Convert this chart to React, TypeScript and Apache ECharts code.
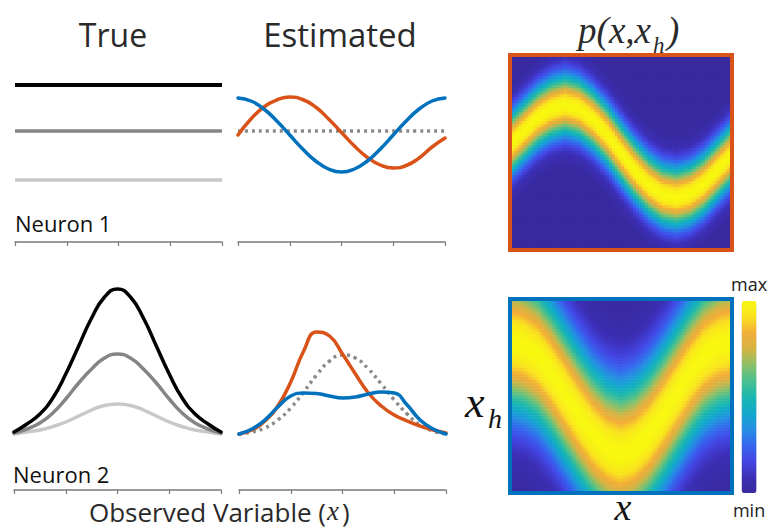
import React, { useEffect, useRef } from "react";
import * as echarts from "echarts";

// ---------- data ----------
const X_STEPS = [0, 1, 2, 3, 4, 5, 6, 7, 8, 9, 10, 11, 12, 13, 14, 15, 16];
const X_TICK_INTERVAL = 4;

// Neuron 1, true tuning curves (flat)
const TRUE1_LEVELS = [15.7, 11.1, 6.2];
// Neuron 1, estimated
const EST1_BLUE = [14.4, 14.1, 13.3, 12.1, 10.7, 9.3, 8.1, 7.3, 7.0, 7.3, 8.1, 9.3, 10.7, 12.1, 13.3, 14.1, 14.4];
const EST1_ORANGE = [10.7, 12.3, 13.5, 14.2, 14.5, 14.25, 13.5, 12.3, 10.95, 9.6, 8.45, 7.7, 7.4, 7.65, 8.4, 9.5, 10.4];
const EST1_TRUE = 11.1;

// Neuron 2, true tuning curves
const TRUE2_BLACK = [5.8, 6.6, 7.6, 9.2, 11.6, 14.4, 17.2, 19.3, 20.1, 19.3, 17.2, 14.4, 11.6, 9.2, 7.6, 6.6, 5.8];
const TRUE2_GRAY = [5.7, 6.1, 6.7, 7.7, 9.1, 10.7, 12.1, 13.2, 13.6, 13.2, 12.1, 10.7, 9.1, 7.7, 6.7, 6.1, 5.7];
const TRUE2_LIGHT = [5.6, 5.8, 6.0, 6.35, 6.8, 7.4, 8.0, 8.45, 8.6, 8.45, 8.0, 7.4, 6.8, 6.35, 6.0, 5.8, 5.6];
// Neuron 2, estimated
const EST2_ORANGE = [5.6, 6.0, 6.9, 8.4, 10.8, 13.9, 15.8, 15.4, 13.6, 11.6, 9.7, 8.4, 7.5, 6.9, 6.4, 6.0, 5.7];
const EST2_BLUE = [5.6, 6.1, 7.0, 8.3, 9.4, 9.7, 9.65, 9.4, 9.2, 9.3, 9.6, 9.8, 9.7, 8.5, 7.0, 6.1, 5.6];
const EST2_TRUE = [5.6, 5.8, 6.2, 7.0, 8.2, 9.8, 11.5, 12.9, 13.5, 13.2, 12.1, 10.6, 9.0, 7.6, 6.5, 5.9, 5.6];

// Joint density p(x, x_h): ridge centre (fraction of x_h range) along x, and ridge width
const HEAT_TOP_CENTER = [0.54, 0.61, 0.68, 0.725, 0.745, 0.725, 0.67, 0.595, 0.5, 0.41, 0.335, 0.285, 0.27, 0.29, 0.34, 0.415, 0.49];
const HEAT_TOP_WIDTH = 0.11;
const HEAT_BOTTOM_CENTER = [0.78, 0.76, 0.71, 0.62, 0.51, 0.4, 0.3, 0.23, 0.2, 0.23, 0.3, 0.4, 0.51, 0.62, 0.71, 0.76, 0.78];
const HEAT_BOTTOM_WIDTH = 0.26;
const HEAT_NX = 74;
const HEAT_NY = 65;

const COLORBAR_LABELS = ["max", "min"];
const PARULA = [
  "#3a2a9e", "#3c2fb6", "#4446e4", "#3567ee", "#258fe2", "#12a9cc",
  "#1ab7b0", "#48c090", "#8cc068", "#d4b444", "#f3ad38", "#f9e21f", "#f8f80f",
];

// ---------- helpers ----------
const pairs = (ys: number[]) => ys.map((y, i) => [X_STEPS[i], y]);
const flat = (v: number) => [[X_STEPS[0], v], [X_STEPS[X_STEPS.length - 1], v]];

function ridgeAt(centers: number[], t: number) {
  const p = t * (centers.length - 1);
  const k = Math.min(Math.floor(p), centers.length - 2);
  const f = p - k;
  return centers[k] * (1 - f) + centers[k + 1] * f;
}
function heatData(centers: number[], w: number) {
  const out: number[][] = [];
  for (let i = 0; i < HEAT_NX; i++) {
    const c = ridgeAt(centers, (i + 0.5) / HEAT_NX);
    for (let j = 0; j < HEAT_NY; j++) {
      const y = (j + 0.5) / HEAT_NY;
      out.push([i, j, Math.exp(-0.5 * ((y - c) / w) ** 2)]);
    }
  }
  return out;
}
const range = (n: number) => Array.from({ length: n }, (_, i) => i);

const SANS = "'Open Sans', 'DejaVu Sans', sans-serif";
const SERIF = "'Liberation Serif', 'DejaVu Serif', serif";
const ORANGE = "#d95319";
const BLUE = "#0072bd";
const AXIS_GRAY = "#7a7a7a";

export default function App() {
  const ref = useRef<HTMLDivElement>(null);
  useEffect(() => {
    if (!ref.current) return;
    const chart = echarts.init(ref.current, undefined, { renderer: "svg" });

    const lineGrids = [
      { left: 15, top: 62, width: 207, height: 180 },
      { left: 238, top: 62, width: 207, height: 180 },
      { left: 14, top: 270, width: 207, height: 220 },
      { left: 239, top: 270, width: 207, height: 220 },
    ];
    const heatGrids = [
      { left: 510, top: 55, width: 222, height: 195 },
      { left: 510, top: 299, width: 222, height: 194 },
    ];

    const lineX = lineGrids.map((_, g) => ({
      type: "value",
      gridIndex: g,
      min: X_STEPS[0],
      max: X_STEPS[X_STEPS.length - 1],
      interval: X_TICK_INTERVAL,
      axisLine: { show: true, lineStyle: { color: AXIS_GRAY, width: 1.5 } },
      axisTick: { show: true, length: 4, lineStyle: { color: AXIS_GRAY, width: 1.2 } },
      axisLabel: { show: false },
      splitLine: { show: false },
    }));
    const lineY = lineGrids.map((_, g) => ({
      type: "value",
      gridIndex: g,
      min: 0,
      max: g < 2 ? 18 : 22,
      show: false,
      splitLine: { show: false },
    }));
    const heatX = heatGrids.map((_, h) => ({
      type: "category",
      gridIndex: 4 + h,
      data: range(HEAT_NX),
      show: false,
    }));
    const heatY = heatGrids.map((_, h) => ({
      type: "category",
      gridIndex: 4 + h,
      data: range(HEAT_NY),
      show: false,
    }));

    const line = (g: number, data: number[][], color: string, width: number, dotted = false, cap = "round") => ({
      type: "line",
      xAxisIndex: g,
      yAxisIndex: g,
      data,
      smooth: true,
      showSymbol: false,
      symbol: "none",
      lineStyle: { color, width, type: dotted ? [3, 4] : "solid", cap: dotted ? "butt" : cap },
      z: dotted ? 2 : 3,
    });

    const txt = (text: string, x: number, y: number, fontSize: number, opts: any = {}) => ({
      type: "text",
      z: 100,
      style: {
        text,
        x,
        y,
        align: "left",
        verticalAlign: "middle",
        fontSize,
        fontFamily: SANS,
        fill: "#2a2a2a",
        ...opts,
      },
    });

    const option: any = {
      animation: false,
      grid: [...lineGrids, ...heatGrids],
      xAxis: [...lineX, ...heatX],
      yAxis: [...lineY, ...heatY],
      visualMap: {
        type: "continuous",
        seriesIndex: [0, 1],
        min: 0,
        max: 1,
        calculable: false,
        orient: "vertical",
        left: 716,
        top: 260,
        itemWidth: 15,
        itemHeight: 192,
        text: COLORBAR_LABELS,
        textGap: 8,
        textStyle: { fontSize: 18, color: "#222", fontFamily: SANS },
        inRange: { color: PARULA },
      },
      series: [
        {
          type: "heatmap",
          xAxisIndex: 4,
          yAxisIndex: 4,
          data: heatData(HEAT_TOP_CENTER, HEAT_TOP_WIDTH),
          progressive: 0,
          progressiveThreshold: 1000000,
        },
        {
          type: "heatmap",
          xAxisIndex: 5,
          yAxisIndex: 5,
          data: heatData(HEAT_BOTTOM_CENTER, HEAT_BOTTOM_WIDTH),
          progressive: 0,
          progressiveThreshold: 1000000,
        },
        line(0, flat(TRUE1_LEVELS[0]), "#000000", 4, false, "butt"),
        line(0, flat(TRUE1_LEVELS[1]), "#858585", 3.5, false, "butt"),
        line(0, flat(TRUE1_LEVELS[2]), "#c8c8c8", 3.5, false, "butt"),
        line(1, flat(EST1_TRUE), "#8a8a8a", 3.5, true),
        line(1, pairs(EST1_ORANGE), ORANGE, 3.5),
        line(1, pairs(EST1_BLUE), BLUE, 3.5),
        line(2, pairs(TRUE2_LIGHT), "#c8c8c8", 3.5),
        line(2, pairs(TRUE2_GRAY), "#858585", 3.5),
        line(2, pairs(TRUE2_BLACK), "#000000", 3.5),
        line(3, pairs(EST2_TRUE), "#8a8a8a", 3.5, true),
        line(3, pairs(EST2_ORANGE), ORANGE, 3.5),
        line(3, pairs(EST2_BLUE), BLUE, 3.5),
      ],
      graphic: [
        { type: "rect", z: 100, shape: { x: 510, y: 55, width: 222, height: 195 }, style: { fill: "none", stroke: ORANGE, lineWidth: 4 } },
        { type: "rect", z: 100, shape: { x: 510, y: 299, width: 222, height: 194 }, style: { fill: "none", stroke: BLUE, lineWidth: 4 } },
        txt("True", 113, 34, 32, { align: "center" }),
        txt("Estimated", 340, 34, 33, { align: "center" }),
        txt("Neuron 1", 15, 223, 22, { fill: "#111" }),
        txt("Neuron 2", 13, 474, 22, { fill: "#111" }),
        txt("Observed Variable (", 326, 512, 26, { align: "right", lineHeight: 28 }),
        txt("x", 327, 511, 27, { fontFamily: SERIF, fontStyle: "italic", lineHeight: 28 }),
        txt(")", 342, 512, 26, { lineHeight: 28 }),
        txt("p(x,x", 651, 30, 37, { align: "right", fontFamily: SERIF, fontStyle: "italic" }),
        txt("h", 653, 45, 23, { fontFamily: SERIF, fontStyle: "italic", lineHeight: 22 }),
        txt(")", 667, 30, 37, { fontFamily: SERIF, fontStyle: "italic" }),
        txt("x", 465, 402, 44, { fontFamily: SERIF, fontStyle: "italic", fill: "#111", lineHeight: 36 }),
        txt("h", 488, 418, 28, { fontFamily: SERIF, fontStyle: "italic", fill: "#111", lineHeight: 26 }),
        txt("x", 623, 507, 38, { align: "center", fontFamily: SERIF, fontStyle: "italic", fill: "#111", lineHeight: 24 }),
      ],
    };
    chart.setOption(option);
    return () => chart.dispose();
  }, []);
  return <div ref={ref} style={{ position: "absolute", left: 0, top: 0, width: 784, height: 529 }} />;
}
